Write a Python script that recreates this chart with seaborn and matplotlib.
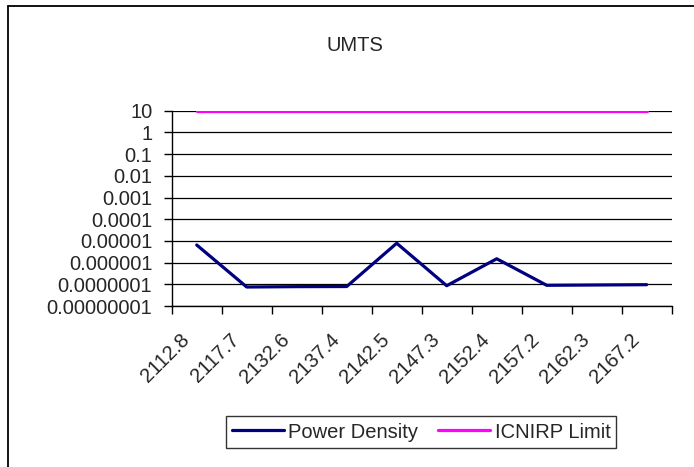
import pandas as pd
import numpy as np
import matplotlib.pyplot as plt
import seaborn as sns
from matplotlib.lines import Line2D
from matplotlib.ticker import FixedLocator, FixedFormatter
from matplotlib.transforms import ScaledTranslation

# Data
freqs = ["2112.8", "2117.7", "2132.6", "2137.4", "2142.5",
         "2147.3", "2152.4", "2157.2", "2162.3", "2167.2"]
power_density = [6.5e-6, 7.5e-8, 7.8e-8, 7.9e-8, 7.8e-6,
                 8.6e-8, 1.5e-6, 9.0e-8, 9.3e-8, 9.6e-8]
icnirp_limit = [10] * len(freqs)
ytick_vals = [10, 1, 0.1, 0.01, 0.001, 0.0001, 0.00001,
              0.000001, 0.0000001, 0.00000001]
ytick_labels = ["10", "1", "0.1", "0.01", "0.001", "0.0001", "0.00001",
                "0.000001", "0.0000001", "0.00000001"]

df = pd.DataFrame({
    "freq": freqs * 2,
    "value": power_density + icnirp_limit,
    "series": ["Power Density"] * len(freqs) + ["ICNIRP Limit"] * len(freqs),
})

sns.set_style("white")
plt.rcParams["font.family"] = ["Liberation Sans", "DejaVu Sans"]
plt.rcParams["font.size"] = 14.5

fig = plt.figure(figsize=(6.94, 4.67), dpi=100)
ax = fig.add_axes([171.7 / 694, 1 - 306 / 467, 500 / 694, (306 - 110.7) / 467])

sns.lineplot(data=df, x="freq", y="value", hue="series", ax=ax,
             palette={"Power Density": "#000080", "ICNIRP Limit": "#FF00FF"},
             linewidth=2.3, legend=False, zorder=3)

ax.set_yscale("log")
ax.set_ylim(1e-8, 10)
ax.set_xlim(-0.5, len(freqs) - 0.5)
ax.yaxis.set_major_locator(FixedLocator(ytick_vals))
ax.yaxis.set_major_formatter(FixedFormatter(ytick_labels))
ax.yaxis.set_minor_locator(FixedLocator([]))
ax.grid(axis="y", color="black", linewidth=0.9)
ax.set_axisbelow(True)

# category labels at centres, tick marks at boundaries (Excel style)
ax.set_xticks(range(len(freqs)))
ax.set_xticklabels(freqs, rotation=45, ha="right", va="center", rotation_mode="anchor")
ax.xaxis.set_minor_locator(FixedLocator(np.arange(len(freqs) + 1) - 0.5))
ax.tick_params(axis="x", which="major", length=0, pad=22)
ax.tick_params(axis="x", which="minor", length=6, width=1, color="black", direction="out", bottom=True)
ax.tick_params(axis="y", length=6, width=1, color="black", direction="out", left=True, pad=8)
offset = ScaledTranslation(-10 / 100, 0, fig.dpi_scale_trans)
for lbl in ax.get_xticklabels():
    lbl.set_transform(lbl.get_transform() + offset)
ax.set_xlabel("")
ax.set_ylabel("")

for side in ["top", "right"]:
    ax.spines[side].set_visible(False)
for side in ["left", "bottom"]:
    ax.spines[side].set_color("black")
    ax.spines[side].set_linewidth(1)

fig.text(355 / 694, 1 - 45 / 467, "UMTS", ha="center", va="center", fontsize=14.5)

handles = [Line2D([], [], color="#000080", linewidth=2.3),
           Line2D([], [], color="#FF00FF", linewidth=2.3)]
leg = fig.legend(handles, ["Power Density", "ICNIRP Limit"], ncol=2,
                 loc="center", bbox_to_anchor=(421 / 694, 1 - 432 / 467),
                 frameon=True, fancybox=False, edgecolor="black",
                 handlelength=2.6, handletextpad=0.2, columnspacing=1.0,
                 borderpad=0.3, fontsize=14.5)
leg.get_frame().set_linewidth(1)

# chart area border (left and top edges visible)
fig.add_artist(Line2D([8 / 694, 8 / 694], [0, 1 - 6 / 467], color="black", linewidth=1.3))
fig.add_artist(Line2D([8 / 694, 1], [1 - 6 / 467, 1 - 6 / 467], color="black", linewidth=1.3))

fig.savefig("out.png", dpi=100)
